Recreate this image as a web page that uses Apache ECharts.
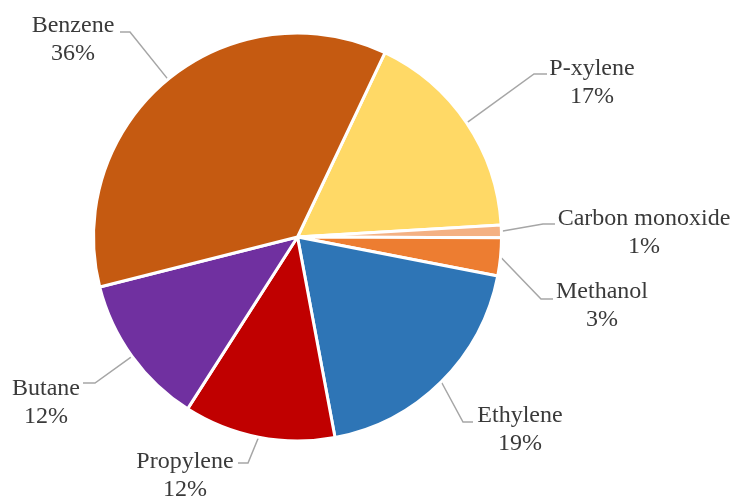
<!DOCTYPE html>
<html>
<head>
<meta charset="utf-8">
<script src="https://cdn.jsdelivr.net/npm/echarts@6/dist/echarts.min.js"></script>
<style>
  html, body { margin: 0; padding: 0; background: #ffffff; }
  #chart { width: 733px; height: 500px; }
</style>
</head>
<body>
<div id="chart"></div>
<script>
// Feedstock shares, listed clockwise from the top-right slice
const categories = ['P-xylene', 'Carbon monoxide', 'Methanol', 'Ethylene', 'Propylene', 'Butane', 'Benzene'];
const shares = [17, 1, 3, 19, 12, 12, 36];
const sliceColors = ['#FFD966', '#F4B183', '#ED7D31', '#2E75B6', '#C00000', '#7030A0', '#C55A11'];

// Label placement: text centre and leader-line elbow/end for each slice
const labelCenters = [[592, 83], [644, 233], [602, 306], [520, 430], [185, 476], [46, 403], [73, 40]];
const leaderElbows = [[534, 74], [543, 224], [541, 299], [463, 422], [248, 463], [95, 383], [130, 32]];
const leaderEnds = [[547, 74], [555, 224], [553, 299], [473, 422], [238, 463], [83, 383], [120, 32]];

const chart = echarts.init(document.getElementById('chart'), null, { renderer: 'canvas' });

chart.setOption({
  animation: false,
  backgroundColor: '#ffffff',
  series: [{
    type: 'pie',
    center: [297.5, 237],
    radius: 204,
    startAngle: 64.6,
    clockwise: true,
    percentPrecision: 0,
    avoidLabelOverlap: false,
    data: categories.map((name, i) => ({
      name: name,
      value: shares[i],
      itemStyle: { color: sliceColors[i] }
    })),
    itemStyle: { borderColor: '#ffffff', borderWidth: 3 },
    label: {
      show: true,
      position: 'outside',
      formatter: '{b}\n{d}%',
      fontFamily: 'Liberation Serif, Times New Roman, serif',
      fontSize: 24,
      lineHeight: 28,
      color: '#3a3a3a',
      align: 'center'
    },
    labelLine: {
      show: true,
      length: 20,
      length2: 10,
      lineStyle: { color: '#A6A6A6', width: 1.5 }
    },
    labelLayout: function (params) {
      const i = params.dataIndex;
      const start = params.labelLinePoints ? params.labelLinePoints[0] : leaderElbows[i];
      return {
        x: labelCenters[i][0],
        y: labelCenters[i][1],
        align: 'center',
        verticalAlign: 'middle',
        labelLinePoints: [start, leaderElbows[i], leaderEnds[i]]
      };
    },
    emphasis: { disabled: true }
  }]
});
</script>
</body>
</html>
